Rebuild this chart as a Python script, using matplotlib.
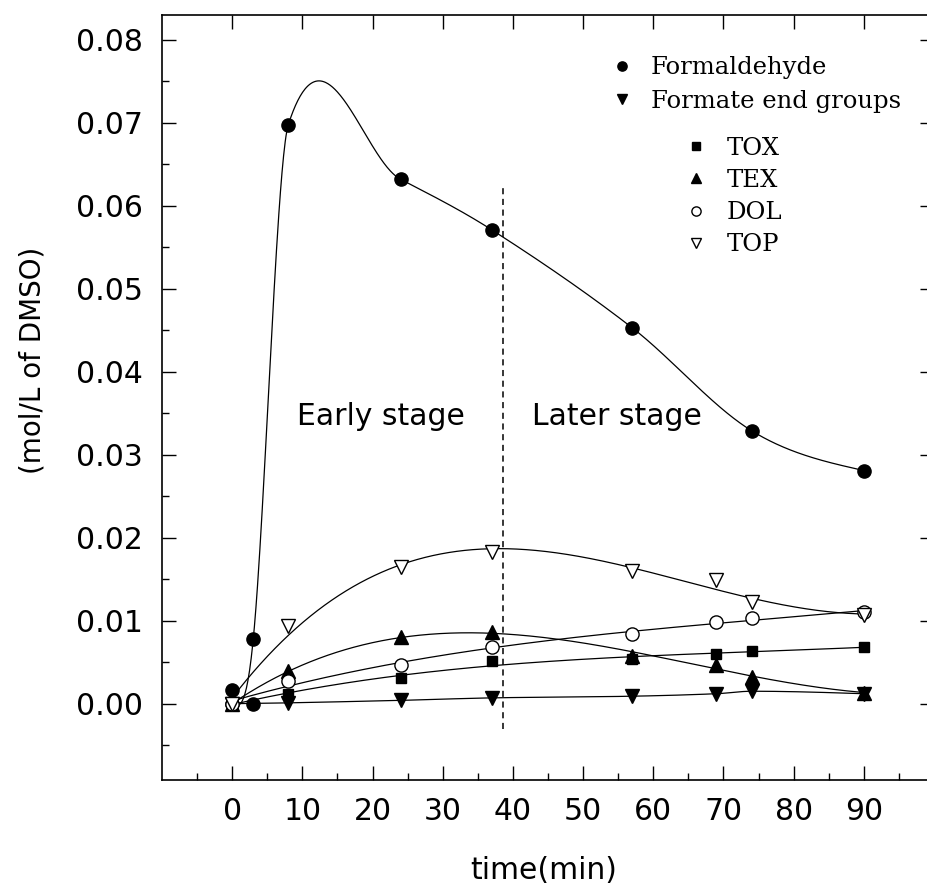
import matplotlib
matplotlib.use('Agg')
import matplotlib.pyplot as plt
import numpy as np

plt.rcParams['font.family'] = ['DejaVu Sans']

# sampling times (min)
t = np.array([0, 8, 24, 37, 57, 69, 74, 90])

# formaldehyde: curve nodes + the extra replicate points near zero
fh_x = np.array([0, 3, 8, 24, 37, 57, 74, 90])
fh_y = np.array([0.0, 0.0078, 0.0698, 0.0632, 0.0571, 0.0453, 0.0329, 0.0281])
fh_extra_x = np.array([0, 3])
fh_extra_y = np.array([0.0016, 0.0])

formate = np.array([0.0, 0.0001, 0.0004, 0.0007, 0.0009, 0.0012, 0.0015, 0.0012])
tox = np.array([0.0, 0.0012, 0.0031, 0.0051, 0.0054, 0.0060, 0.0064, 0.0068])
tex = np.array([0.0, 0.0039, 0.0080, 0.0086, 0.0058, 0.0047, 0.0032, 0.0013])
dol = np.array([0.0, 0.0027, 0.0047, 0.0068, 0.0084, 0.0098, 0.0103, 0.0111])
top = np.array([0.0, 0.0094, 0.0165, 0.0183, 0.0160, 0.0149, 0.0122, 0.0107])

stage_split = 38.6
split_ylim = (-0.003, 0.0625)


def smooth_curve(x, y, xs):
    # cubic hermite, catmull-rom style tangents, natural-like ends
    x = np.asarray(x, float)
    y = np.asarray(y, float)
    n = len(x)
    h = np.diff(x)
    m = np.zeros(n)
    m[1:-1] = (y[2:] - y[:-2]) / (x[2:] - x[:-2])
    m[0] = (3 * (y[1] - y[0]) / h[0] - m[1]) / 2
    m[-1] = (3 * (y[-1] - y[-2]) / h[-1] - m[-2]) / 2
    idx = np.clip(np.searchsorted(x, xs) - 1, 0, n - 2)
    s = (xs - x[idx]) / h[idx]
    h00 = 2 * s ** 3 - 3 * s ** 2 + 1
    h10 = s ** 3 - 2 * s ** 2 + s
    h01 = -2 * s ** 3 + 3 * s ** 2
    h11 = s ** 3 - s ** 2
    return h00 * y[idx] + h10 * h[idx] * m[idx] + h01 * y[idx + 1] + h11 * h[idx] * m[idx + 1]


fig = plt.figure(figsize=(9.28, 8.94), dpi=100)
ax = fig.add_axes([0.1746, 0.1275, 0.8319, 0.8557])

xs = np.linspace(0, 90, 800)
lw = 0.9

# smooth curves
ax.plot(xs, smooth_curve(fh_x, fh_y, xs), color='black', lw=lw)
ax.plot(xs, smooth_curve(t, formate, xs), color='black', lw=lw)
for vals in (tox, tex, dol, top):
    p = np.polyfit(t, vals, 3)
    ax.plot(xs, np.polyval(p, xs), color='black', lw=lw)

# markers
h_fh, = ax.plot(fh_x, fh_y, ls='none', marker='o', ms=9.5, color='black', label='Formaldehyde', zorder=5)
ax.plot(fh_extra_x, fh_extra_y, ls='none', marker='o', ms=9.5, color='black', zorder=5)
h_fe, = ax.plot(t, formate, ls='none', marker='v', ms=9.5, color='black', label='Formate end groups', zorder=5)
h_tox, = ax.plot(t, tox, ls='none', marker='s', ms=7.5, color='black', label='TOX', zorder=5)
h_tex, = ax.plot(t, tex, ls='none', marker='^', ms=9.5, color='black', label='TEX', zorder=5)
h_dol, = ax.plot(t, dol, ls='none', marker='o', ms=9.5, mfc='white', mec='black', mew=1, label='DOL', zorder=5)
h_top, = ax.plot(t, top, ls='none', marker='v', ms=10, mfc='white', mec='black', mew=1, label='TOP', zorder=5)

# stage divider
ax.vlines(stage_split, split_ylim[0], split_ylim[1], colors='black', lw=1.1, linestyles=(0, (4, 3)))
ax.text(21.2, 0.0346, 'Early stage', fontsize=21.5, ha='center', va='center')
ax.text(54.8, 0.0346, 'Later stage', fontsize=21.5, ha='center', va='center')

# axes / ticks
ax.set_xlim(-10, 100)
ax.set_ylim(-0.0092, 0.083)
ax.set_xticks(np.arange(0, 91, 10))
ax.set_xticks(np.arange(-5, 100, 5), minor=True)
ax.set_yticks(np.arange(0, 0.0801, 0.01))
ax.set_yticks(np.arange(-0.005, 0.0801, 0.005), minor=True)
ax.yaxis.set_major_formatter(matplotlib.ticker.FormatStrFormatter('%.2f'))
ax.tick_params(which='both', direction='in', top=True, right=True, width=1)
ax.tick_params(which='major', length=10, labelsize=21.5)
ax.tick_params(which='minor', length=5, top=False, right=False)
ax.tick_params(axis='y', pad=14)
ax.tick_params(axis='x', pad=12)
for s in ax.spines.values():
    s.set_linewidth(1.2)

ax.set_xlabel('time(min)', fontsize=21.5)
ax.set_ylabel('(mol/L of DMSO)', fontsize=20)
ax.xaxis.set_label_coords(0.495, -0.099)
ax.yaxis.set_label_coords(-0.150, 0.549)

# legends
leg_font = {'family': 'DejaVu Serif', 'size': 17.5}
leg1 = ax.legend(handles=[h_fh, h_fe], loc='upper left', bbox_to_anchor=(0.580, 0.946),
                 frameon=False, prop=leg_font, handlelength=1, handletextpad=0.7,
                 borderpad=0, borderaxespad=0, labelspacing=0.42, markerscale=0.7)
ax.add_artist(leg1)
ax.legend(handles=[h_tox, h_tex, h_dol, h_top], loc='upper left', bbox_to_anchor=(0.676, 0.841),
          frameon=False, prop=leg_font, handlelength=1, handletextpad=0.75,
          borderpad=0, borderaxespad=0, labelspacing=0.38, markerscale=0.7)

fig.savefig('out.png', dpi=100)
